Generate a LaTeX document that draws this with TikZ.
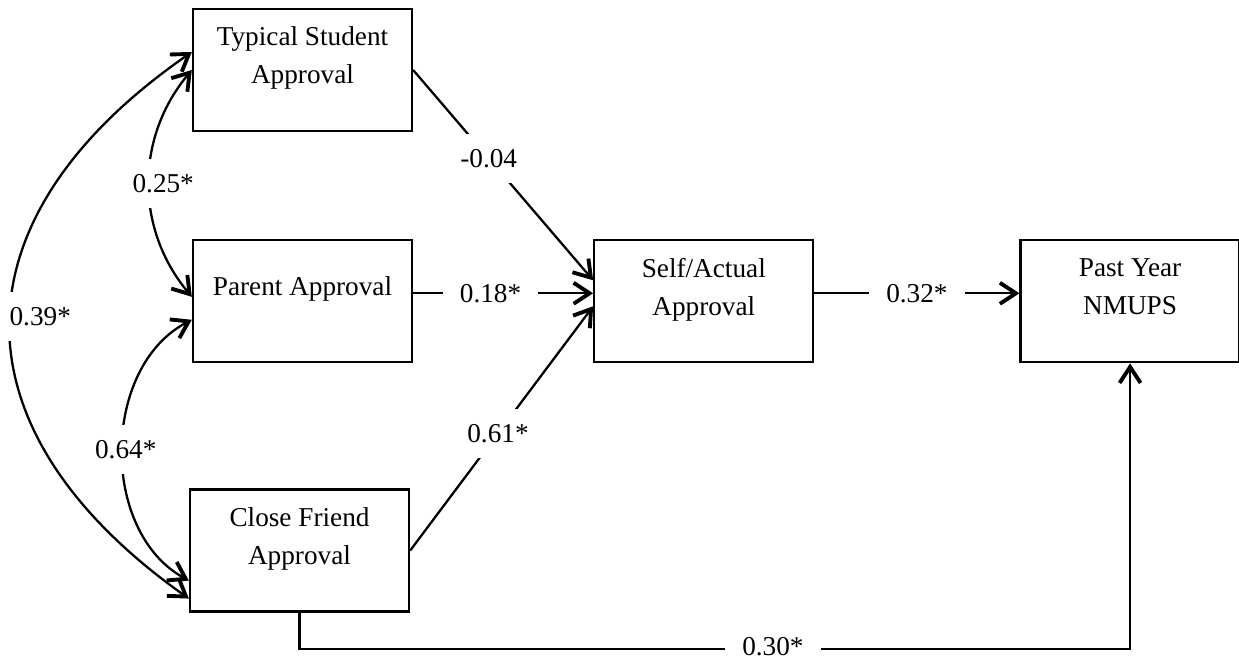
\documentclass[tikz,border=0pt]{standalone}
\usepackage{fontspec}
\setmainfont{Liberation Serif}
\usepackage{tikz}
\usetikzlibrary{positioning, arrows.meta}

\begin{document}
\begin{tikzpicture}[
    font=\fontsize{15.5}{21.6}\selectfont,
    line width=1.3pt,
    barb/.tip={Straight Barb[length=0.32cm, width=0.42cm, line width=2.2pt]},
    boxnode/.style={rectangle, draw=black, line width=1.3pt, minimum width=4.38cm, minimum height=2.44cm, inner sep=0pt},
    boxtext/.style={anchor=north, align=center, inner sep=0pt},
    coefnode/.style={fill=white, inner xsep=0.34cm, inner ysep=0.3cm},
    effect/.style={-barb},
    assoc/.style={barb-barb}
]
\useasboundingbox (-6.05,1.4) rectangle (18.73,-11.82);
\node[boxnode](typical){};
\node[boxnode](parent)[below = 2.14cm of typical]{};
\node[boxnode](close)[below = 2.5cm of parent, xshift=-0.06cm]{};
\node[boxnode](self)[right = 3.6cm of parent]{};
\node[boxnode](past)[right = 4.1cm of self]{};
\node[boxtext](typicaltext)[below = 0.36cm of typical.north]{Typical Student\\Approval};
\node[boxtext](parenttext)[below = 0.72cm of parent.north]{Parent Approval};
\node[boxtext](closetext)[below = 0.36cm of close.north]{Close Friend\\Approval};
\node[boxtext](selftext)[below = 0.36cm of self.north]{Self/Actual\\Approval};
\node[boxtext](pasttext)[below = 0.36cm of past.north]{Past Year\\NMUPS};
\coordinate[below = 0.72cm of close.south](elbow);

\draw[effect] (typical.east) -- node[coefnode, pos=0.42](typself){-0.04} ([yshift=0.42cm]self.west);
\draw[effect] ([yshift=0.16cm]parent.east) -- node[coefnode, pos=0.43](parself){0.18*} ([yshift=0.16cm]self.west);
\draw[effect] (close.east) -- node[coefnode, pos=0.48](cloself){0.61*} ([yshift=-0.1cm]self.west);
\draw[effect] ([yshift=0.16cm]self.east) -- node[coefnode](selfpast){0.32*} ([yshift=0.16cm]past.west);
\draw[effect] (close.south) -- (elbow) -- node[coefnode, inner ysep=0.1cm, yshift=0.04cm, pos=0.57](clopast){0.30*} (elbow -| past.south) -- (past.south);

\draw[assoc] (typical.west) to[bend right=40] node[coefnode, xshift=0.28cm](typpar){0.25*} ([yshift=0.09cm]parent.west);
\draw[assoc] ([yshift=-0.37cm]parent.west) to[bend right=62] node[coefnode, xshift=0.06cm](parclo){0.64*} ([yshift=-0.6cm]close.west);
\draw[assoc] ([yshift=0.36cm]typical.west) to[bend right=55, looseness=1.37] node[coefnode, xshift=0.6cm, yshift=0.16cm](typclo){0.39*} ([yshift=-0.96cm]close.west);
\end{tikzpicture}
\end{document}
